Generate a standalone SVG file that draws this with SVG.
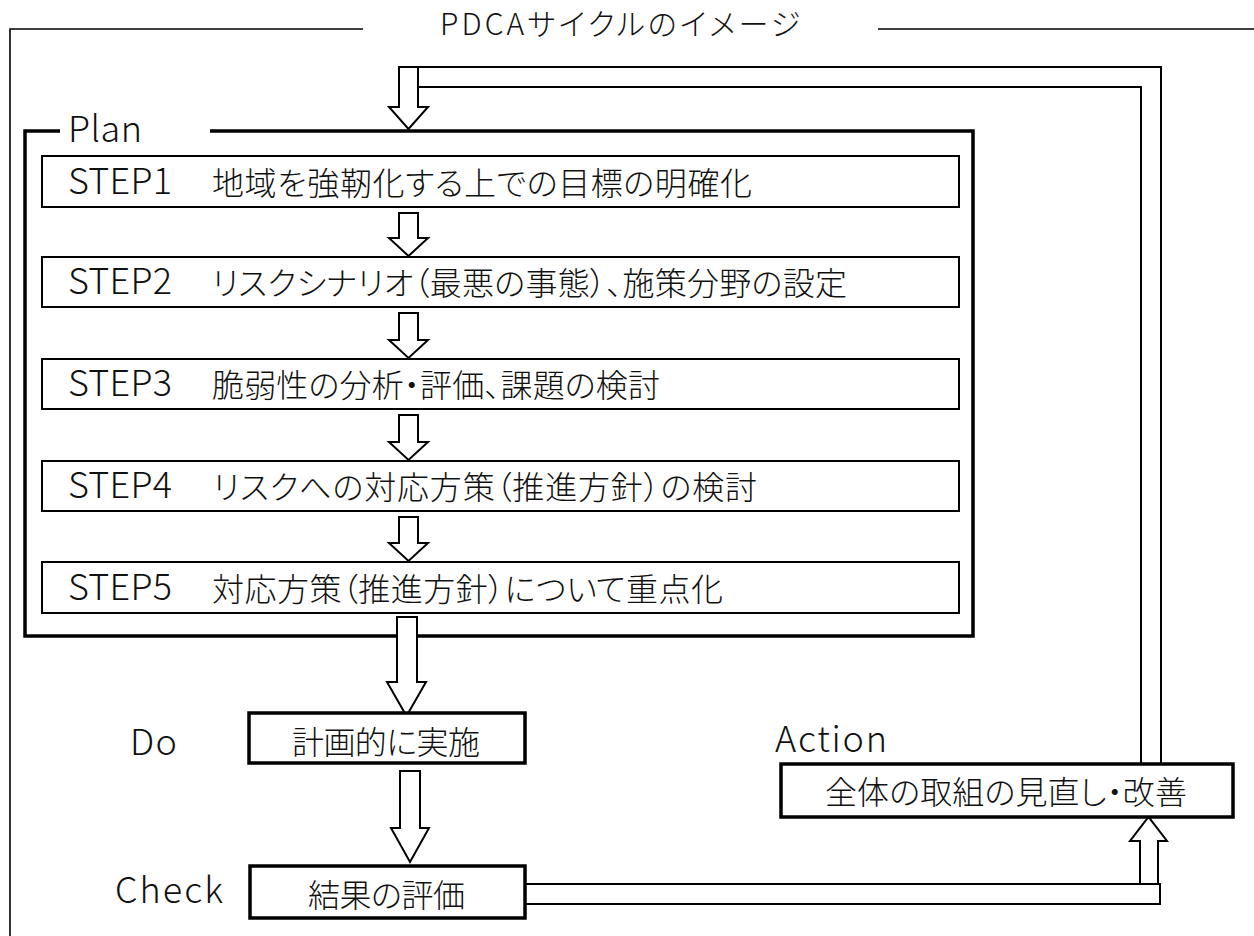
<svg xmlns="http://www.w3.org/2000/svg" width="1254" height="936" viewBox="0 0 1254 936">
<style>
text{font-family:"Noto Sans CJK JP","Noto Sans",sans-serif;fill:#111;font-feature-settings:"palt";font-weight:300;}
.lbl{font-size:36px;}
.jp{font-size:32px;}
.frame{fill:none;stroke:#000;stroke-width:1.6;}
.plan{fill:none;stroke:#000;stroke-width:3.5;}
.step{fill:#fff;stroke:#000;stroke-width:2;}
.box{fill:#fff;stroke:#000;stroke-width:3.5;}
.arrow{fill:#fff;stroke:#000;stroke-width:2;stroke-linejoin:miter;}
.band{fill:#fff;stroke:#000;stroke-width:2;}
</style>
<rect width="1254" height="936" fill="#fff"/>
<g id="outer-frame">
<polyline class="frame" points="363,29 10,29 10,936"/>
<line class="frame" x1="878" y1="29" x2="1254" y2="29"/>
<text x="440" y="35" style="font-size:30px" textLength="360" lengthAdjust="spacing">PDCAサイクルのイメージ</text>
</g>
<g id="plan">
<polyline class="plan" points="60,131 25,131 25,636 973,636 973,131 210,131"/>
<text class="lbl" x="68" y="142" textLength="74" lengthAdjust="spacing">Plan</text>
</g>
<g id="connectors">
<polygon class="band" points="418,67 1161,67 1161,764 1141,764 1141,87 418,87"/>
<polygon class="arrow" points="399,67 418,67 418,107 428,107 408.5,129 389,107 399,107"/>
<polygon class="arrow" points="399,213 418,213 418,238 428,238 408.5,256 389,238 399,238"/>
<polygon class="arrow" points="399,313 418,313 418,340 428,340 408.5,358 389,340 399,340"/>
<polygon class="arrow" points="399,415 418,415 418,442 428,442 408.5,460 389,442 399,442"/>
<polygon class="arrow" points="399,517 418,517 418,543 428,543 408.5,561 389,543 399,543"/>
<polygon class="arrow" points="397,617 417,617 417,682 426,682 406.5,716 387,682 397,682"/>
<polygon class="arrow" points="400,771 420,771 420,828 429,828 410,862 391,828 400,828"/>
<polygon class="band" points="521,884 1160,884 1160,904 521,904"/>
<polygon class="arrow" points="1140,884 1140,841 1130,841 1148.5,817 1167,841 1158,841 1158,884"/>
</g>
<g id="step1">
<rect class="step" x="42" y="156" width="917" height="51"/>
<text class="lbl" x="68" y="194" textLength="104" lengthAdjust="spacing">STEP1</text>
<text class="jp" x="212" y="195" textLength="540" lengthAdjust="spacing">地域を強靭化する上での目標の明確化</text>
</g>
<g id="step2">
<rect class="step" x="42" y="257" width="917" height="50"/>
<text class="lbl" x="68" y="294" textLength="104" lengthAdjust="spacing">STEP2</text>
<text class="jp" x="212" y="295" textLength="635" lengthAdjust="spacing">リスクシナリオ（最悪の事態）、施策分野の設定</text>
</g>
<g id="step3">
<rect class="step" x="42" y="359" width="917" height="50"/>
<text class="lbl" x="68" y="396" textLength="104" lengthAdjust="spacing">STEP3</text>
<text class="jp" x="212" y="397" textLength="448" lengthAdjust="spacing">脆弱性の分析・評価、課題の検討</text>
</g>
<g id="step4">
<rect class="step" x="42" y="461" width="917" height="50"/>
<text class="lbl" x="68" y="498" textLength="104" lengthAdjust="spacing">STEP4</text>
<text class="jp" x="213" y="499" textLength="544" lengthAdjust="spacing">リスクへの対応方策（推進方針）の検討</text>
</g>
<g id="step5">
<rect class="step" x="42" y="562" width="917" height="51"/>
<text class="lbl" x="68" y="600" textLength="104" lengthAdjust="spacing">STEP5</text>
<text class="jp" x="212" y="601" textLength="511" lengthAdjust="spacing">対応方策（推進方針）について重点化</text>
</g>
<g id="do">
<text class="lbl" x="130" y="755" textLength="47" lengthAdjust="spacing">Do</text>
<rect class="box" x="249" y="713" width="276" height="50"/>
<text class="jp" x="292" y="754" textLength="188" lengthAdjust="spacing">計画的に実施</text>
</g>
<g id="check">
<text class="lbl" x="115" y="903" textLength="108" lengthAdjust="spacing">Check</text>
<rect class="box" x="250" y="866" width="275" height="52"/>
<text class="jp" x="308" y="907" textLength="157" lengthAdjust="spacing">結果の評価</text>
</g>
<g id="action">
<text class="lbl" x="775" y="752" textLength="112" lengthAdjust="spacing">Action</text>
<rect class="box" x="781" y="764" width="452" height="53"/>
<text class="jp" x="825" y="804" textLength="362" lengthAdjust="spacing">全体の取組の見直し・改善</text>
</g>
</svg>
